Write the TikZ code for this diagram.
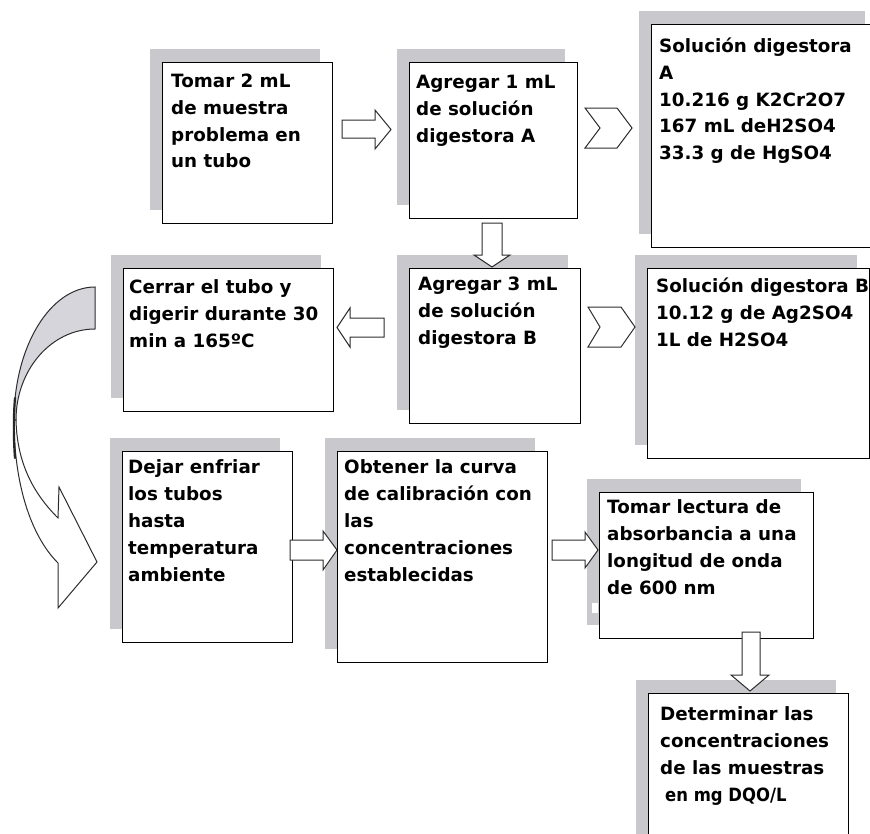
\documentclass[tikz,border=0pt]{standalone}
\usepackage{fontspec}
\setmainfont{DejaVu Sans}
\newfontfamily\condfont{DejaVu Sans Condensed}
\usetikzlibrary{shadows}

\definecolor{shadowgray}{RGB}{200,200,205}
\definecolor{bandgray}{RGB}{214,213,220}
\definecolor{outline}{RGB}{45,45,45}

\tikzset{
  stepbox/.style={draw=black, line width=1.3pt, fill=white, anchor=north west,
    inner sep=0pt,
    general shadow={fill=shadowgray, shadow xshift=-13pt, shadow yshift=14pt}},
  % the anchor point of a text node is the baseline of its first line
  steptext/.style={anchor=north west, yshift=18.76pt, align=left, inner sep=0pt,
    font=\fontsize{18.3}{26.8}\selectfont\bfseries,
    execute at begin node=\strut},
  blockarrow/.style={draw=outline, line width=1pt, fill=white, line join=miter},
}

\begin{document}
\begin{tikzpicture}[x=1pt, y=-1pt]
\useasboundingbox (0,0) rectangle (870,833);
\clip (0,0) rectangle (870,833);
\fill[white] (0,0) rectangle (870,833);

% process boxes
\node[stepbox, minimum width=170pt, minimum height=161pt] (b1) at (162,62) {};
\node[stepbox, minimum width=168pt, minimum height=156pt] (b2) at (409,62) {};
\node[stepbox, minimum width=226pt, minimum height=223pt] (b3) at (651,24) {};
\node[stepbox, minimum width=171pt, minimum height=155pt] (b4) at (409,268) {};
\node[stepbox, minimum width=222pt, minimum height=190pt] (b5) at (647,268) {};
\node[stepbox, minimum width=210pt, minimum height=143pt] (b6) at (123,268) {};
\node[stepbox, minimum width=170pt, minimum height=191pt] (b7) at (122,451) {};
\node[stepbox, minimum width=210pt, minimum height=211pt] (b8) at (337,451) {};
\node[stepbox, minimum width=214pt, minimum height=146pt] (b9) at (599,492) {};
\node[stepbox, minimum width=200pt, minimum height=160pt] (b10) at (648,693) {};
\fill[white] (592,603) rectangle (598,613);

% box texts
\node[steptext] (t1) at (171,92.5) {Tomar 2 mL\\de muestra\\problema en\\un tubo};
\node[steptext] (t2) at (416,94) {Agregar 1 mL\\de solución\\digestora A};
\node[steptext] (t3) at (659,56.5) {Solución digestora\\A\\10.216 g K2Cr2O7\\167 mL deH2SO4\\33.3 g de HgSO4};
\node[steptext] (t4) at (418,295.5) {Agregar 3 mL\\de solución\\digestora B};
\node[steptext] (t5) at (656,296.5) {Solución digestora B\\10.12 g de Ag2SO4\\1L de H2SO4};
\node[steptext] (t6) at (129,298.5) {Cerrar el tubo y\\digerir durante 30\\min a 165ºC};
\node[steptext] (t7) at (128,478.5) {Dejar enfriar\\los tubos\\hasta\\temperatura\\ambiente};
\node[steptext] (t8) at (344,478.5) {Obtener la curva\\de calibración con\\las\\concentraciones\\establecidas};
\node[steptext] (t9) at (607,518.5) {Tomar lectura de\\absorbancia a una\\longitud de onda\\de 600 nm};
\node[steptext] (t10) at (660,725.5) {Determinar las\\concentraciones\\de las muestras\\\hspace*{5pt}{\condfont en mg DQO/L}};

% block arrows between the steps
\draw[blockarrow] (342,120) -- (375,120) -- (375,110) -- (391,129.5) -- (375,149) -- (375,138) -- (342,138) -- cycle;
\draw[blockarrow] (482,223) -- (502,223) -- (502,255) -- (510,255) -- (492,267) -- (474,255) -- (482,255) -- cycle;
\draw[blockarrow] (384,318) -- (384,337) -- (350,337) -- (350,347) -- (337,327.5) -- (350,308) -- (350,318) -- cycle;
\draw[blockarrow] (290,540) -- (323,540) -- (323,531) -- (337,550) -- (323,570) -- (323,560) -- (290,560) -- cycle;
\draw[blockarrow] (552,540) -- (585,540) -- (585,532) -- (598,550) -- (585,568) -- (585,560) -- (552,560) -- cycle;
\draw[blockarrow] (742,632) -- (760,632) -- (760,675) -- (769,675) -- (750,691) -- (731,675) -- (742,675) -- cycle;

% chevrons towards the reagent boxes
\draw[blockarrow] (585,108) -- (617,108) -- (632,128) -- (617,148) -- (585,148) -- (600,128) -- cycle;
\draw[blockarrow] (588,307) -- (621,307) -- (635,327) -- (621,347) -- (588,347) -- (600,327) -- cycle;

% curved arrow: back band
\draw[draw=outline, line width=1pt, fill=bandgray]
  (95,287) -- (95,329)
  arc[start angle=-90, end angle=-180, x radius=79, y radius=91]
  -- (14,420)
  arc[start angle=180, end angle=270, x radius=81, y radius=133]
  -- cycle;
% curved arrow: front band with head
\draw[draw=outline, line width=1pt, fill=white, line join=miter]
  (14,420) .. controls (14,482) and (30,535) .. (58,563)
  -- (58,608) -- (97,562) -- (59,487) -- (58,518)
  .. controls (35,495) and (17,465) .. (16,420) -- cycle;
\draw[line width=2.2pt, black!85, line cap=round]
  (15,398) .. controls (13.5,415) and (13.5,440) .. (15,458);
\end{tikzpicture}
\end{document}
